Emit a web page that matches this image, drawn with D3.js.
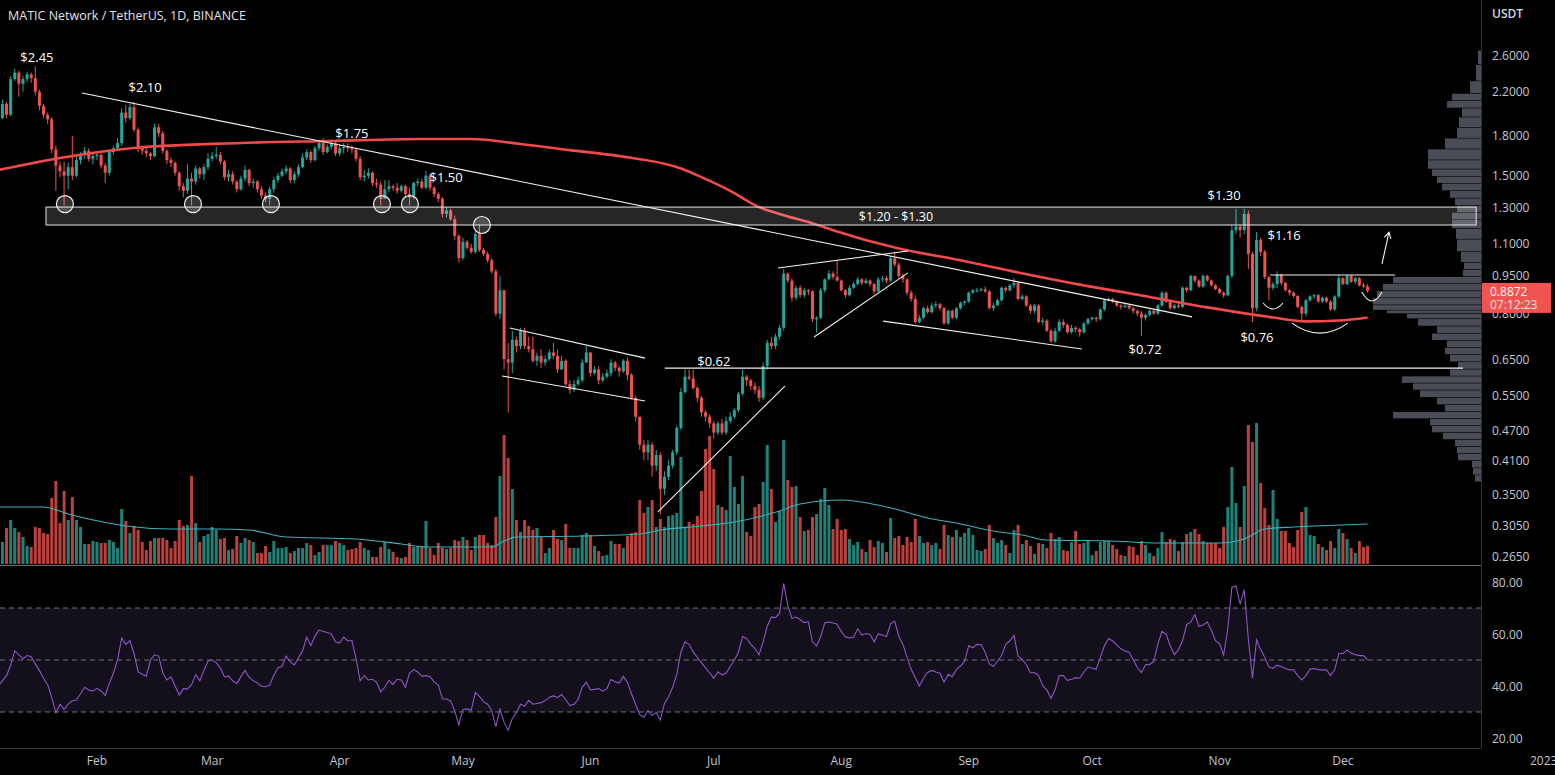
<!DOCTYPE html>
<html><head><meta charset="utf-8">
<script src="https://cdn.jsdelivr.net/npm/d3@7"></script>
<style>
html,body{margin:0;padding:0;background:#000;overflow:hidden;}
svg{display:block;}
text{font-family:"Open Sans","Noto Sans",sans-serif;}
</style></head><body>
<svg id="c" width="1555" height="775"></svg>
<script>
// ---------------- DATA ----------------
const startDate = new Date(Date.UTC(2022, 0, 8));
const firstOpen = 2.06;
const closes = [
1.95,2.08,1.98,2.33,2.40,2.28,2.33,2.38,2.34,2.20,
2.06,1.98,1.94,1.69,1.57,1.53,1.50,1.56,1.50,1.61,
1.65,1.68,1.62,1.64,1.65,1.57,1.52,1.67,1.70,1.74,
2.00,1.95,2.05,1.85,1.70,1.68,1.66,1.64,1.87,1.82,
1.68,1.61,1.59,1.52,1.43,1.40,1.48,1.46,1.55,1.51,
1.56,1.62,1.64,1.65,1.60,1.49,1.51,1.46,1.41,1.48,
1.54,1.45,1.46,1.41,1.37,1.35,1.41,1.47,1.50,1.53,
1.55,1.47,1.51,1.56,1.63,1.67,1.61,1.70,1.74,1.67,
1.71,1.74,1.66,1.70,1.71,1.70,1.69,1.62,1.49,1.50,
1.52,1.45,1.44,1.35,1.41,1.43,1.42,1.40,1.43,1.38,
1.36,1.45,1.46,1.42,1.50,1.42,1.38,1.35,1.26,1.28,
1.23,1.14,1.03,1.11,1.08,1.06,1.15,1.07,1.05,1.02,
0.97,0.80,0.89,0.65,0.64,0.71,0.69,0.74,0.69,0.68,
0.645,0.66,0.64,0.65,0.67,0.66,0.62,0.645,0.58,0.565,
0.58,0.59,0.64,0.67,0.61,0.62,0.59,0.60,0.61,0.64,
0.625,0.615,0.645,0.605,0.545,0.50,0.44,0.425,0.44,0.40,
0.42,0.36,0.38,0.40,0.425,0.475,0.56,0.60,0.595,0.57,
0.545,0.51,0.50,0.485,0.465,0.485,0.465,0.49,0.50,0.515,
0.555,0.60,0.59,0.575,0.565,0.545,0.63,0.70,0.69,0.72,
0.75,0.96,0.93,0.86,0.90,0.87,0.89,0.885,0.78,0.785,
0.89,0.935,0.96,0.945,0.93,0.89,0.87,0.90,0.915,0.935,
0.92,0.93,0.915,0.885,0.935,0.94,0.93,1.03,1.00,0.95,
0.935,0.88,0.855,0.77,0.785,0.82,0.805,0.83,0.835,0.82,
0.765,0.81,0.785,0.82,0.84,0.845,0.88,0.89,0.89,0.893,
0.885,0.82,0.83,0.85,0.90,0.89,0.91,0.92,0.855,0.865,
0.83,0.81,0.83,0.77,0.775,0.74,0.705,0.74,0.77,0.76,
0.735,0.75,0.745,0.735,0.765,0.78,0.785,0.78,0.815,0.85,
0.855,0.845,0.83,0.825,0.83,0.82,0.81,0.80,0.785,0.795,
0.81,0.80,0.83,0.88,0.845,0.82,0.83,0.825,0.90,0.89,
0.95,0.93,0.905,0.95,0.93,0.91,0.895,0.88,0.87,0.95,
1.17,1.19,1.17,1.26,1.05,0.82,1.12,1.06,0.945,0.90,
0.915,0.955,0.92,0.89,0.88,0.867,0.825,0.80,0.85,0.865,
0.87,0.845,0.86,0.845,0.815,0.865,0.94,0.915,0.95,0.925,
0.94,0.91,0.905,0.8872];
const highs = [
2.08,2.12,2.10,2.36,2.44,2.42,2.36,2.41,2.40,2.47,
2.22,2.08,2.00,1.96,1.72,1.60,1.60,1.59,1.80,1.64,
1.67,1.71,1.70,1.66,1.67,1.66,1.59,1.69,1.72,1.78,
2.04,2.07,2.08,2.10,1.87,1.72,1.70,1.67,1.90,1.90,
1.84,1.69,1.63,1.60,1.53,1.45,1.58,1.52,1.57,1.56,
1.58,1.66,1.67,1.71,1.67,1.61,1.54,1.53,1.47,1.50,
1.57,1.55,1.48,1.47,1.43,1.39,1.43,1.49,1.52,1.55,
1.57,1.56,1.53,1.58,1.66,1.69,1.68,1.72,1.76,1.78,
1.73,1.77,1.76,1.73,1.74,1.74,1.72,1.70,1.64,1.54,
1.55,1.53,1.48,1.46,1.47,1.47,1.44,1.45,1.44,1.44,
1.42,1.46,1.48,1.48,1.53,1.51,1.43,1.39,1.36,1.30,
1.29,1.25,1.15,1.13,1.12,1.10,1.16,1.20,1.08,1.06,
1.03,0.98,0.95,0.89,0.70,0.74,0.72,0.75,0.75,0.72,
0.72,0.67,0.68,0.66,0.68,0.70,0.68,0.66,0.65,0.59,
0.59,0.60,0.65,0.69,0.67,0.63,0.63,0.61,0.62,0.65,
0.645,0.63,0.65,0.655,0.61,0.55,0.50,0.45,0.45,0.445,
0.43,0.425,0.39,0.41,0.43,0.48,0.57,0.62,0.62,0.62,
0.575,0.55,0.515,0.505,0.49,0.49,0.495,0.50,0.51,0.52,
0.56,0.62,0.605,0.595,0.585,0.575,0.64,0.71,0.72,0.73,
0.76,0.98,0.965,0.94,0.91,0.91,0.90,0.895,0.89,0.79,
0.90,0.94,0.975,0.97,1.02,0.935,0.895,0.91,0.925,0.945,
0.94,0.94,0.935,0.92,0.945,0.95,0.95,1.04,1.06,1.01,
0.96,0.94,0.89,0.87,0.795,0.825,0.83,0.84,0.845,0.84,
0.825,0.815,0.815,0.825,0.845,0.85,0.885,0.895,0.90,0.90,
0.905,0.89,0.84,0.855,0.905,0.905,0.915,0.94,0.925,0.875,
0.87,0.835,0.835,0.835,0.785,0.78,0.745,0.75,0.78,0.78,
0.765,0.76,0.755,0.75,0.77,0.785,0.79,0.79,0.82,0.855,
0.86,0.86,0.85,0.835,0.835,0.835,0.825,0.815,0.81,0.80,
0.815,0.815,0.835,0.885,0.885,0.85,0.835,0.84,0.905,0.905,
0.955,0.95,0.935,0.955,0.955,0.935,0.915,0.90,0.885,0.955,
1.20,1.29,1.20,1.29,1.28,1.06,1.16,1.13,1.07,0.95,
0.925,0.97,0.96,0.925,0.895,0.885,0.87,0.83,0.855,0.87,
0.875,0.875,0.865,0.865,0.85,0.87,0.955,0.945,0.955,0.955,
0.945,0.945,0.92,0.915];
const lows = [
1.92,1.94,1.95,1.97,2.31,2.15,2.20,2.30,2.29,2.16,
2.02,1.95,1.90,1.66,1.40,1.49,1.31,1.41,1.47,1.49,
1.58,1.62,1.60,1.58,1.61,1.55,1.45,1.50,1.65,1.69,
1.72,1.91,1.93,1.83,1.67,1.65,1.63,1.61,1.63,1.79,
1.66,1.58,1.56,1.50,1.40,1.36,1.38,1.31,1.44,1.48,
1.47,1.54,1.60,1.62,1.58,1.47,1.46,1.44,1.39,1.40,
1.46,1.43,1.42,1.39,1.35,1.33,1.31,1.39,1.45,1.49,
1.51,1.45,1.45,1.49,1.55,1.61,1.59,1.60,1.68,1.65,
1.66,1.69,1.64,1.64,1.66,1.67,1.66,1.60,1.47,1.46,
1.48,1.43,1.42,1.31,1.38,1.39,1.40,1.38,1.39,1.36,
1.31,1.35,1.43,1.41,1.41,1.40,1.36,1.33,1.24,1.24,
1.22,1.12,1.01,1.02,1.07,1.05,1.05,1.06,1.04,1.01,
0.96,0.79,0.78,0.62,0.51,0.61,0.67,0.68,0.68,0.67,
0.64,0.63,0.625,0.63,0.645,0.65,0.61,0.62,0.575,0.555,
0.56,0.575,0.585,0.64,0.60,0.605,0.58,0.585,0.595,0.60,
0.615,0.60,0.61,0.59,0.54,0.49,0.43,0.41,0.41,0.38,
0.39,0.32,0.35,0.375,0.395,0.42,0.47,0.555,0.59,0.565,
0.535,0.50,0.49,0.475,0.452,0.46,0.46,0.46,0.485,0.495,
0.51,0.55,0.575,0.565,0.555,0.535,0.54,0.62,0.68,0.68,
0.71,0.74,0.92,0.845,0.85,0.86,0.86,0.87,0.77,0.733,
0.78,0.88,0.93,0.935,0.925,0.885,0.86,0.865,0.895,0.91,
0.91,0.915,0.905,0.875,0.88,0.925,0.92,0.925,0.99,0.94,
0.92,0.87,0.845,0.765,0.765,0.78,0.80,0.80,0.82,0.81,
0.76,0.76,0.78,0.78,0.815,0.83,0.84,0.875,0.88,0.885,
0.88,0.815,0.81,0.83,0.845,0.88,0.885,0.90,0.85,0.85,
0.825,0.80,0.80,0.765,0.76,0.735,0.70,0.70,0.735,0.75,
0.73,0.73,0.735,0.72,0.73,0.76,0.775,0.77,0.775,0.81,
0.845,0.84,0.825,0.815,0.82,0.815,0.80,0.79,0.722,0.775,
0.79,0.795,0.795,0.825,0.84,0.815,0.815,0.82,0.82,0.88,
0.885,0.92,0.90,0.90,0.925,0.905,0.89,0.875,0.86,0.865,
0.94,1.15,1.13,1.15,0.98,0.77,0.81,1.04,0.935,0.85,
0.89,0.90,0.91,0.885,0.87,0.86,0.82,0.775,0.79,0.845,
0.855,0.84,0.84,0.84,0.81,0.81,0.86,0.91,0.91,0.92,
0.915,0.905,0.90,0.88];
// volume, in units of 4M MATIC
const volumes = [
27,22,36,44,36,32,27,18,17,37, 36,31,30,66,83,41,73,44,67,44,
37,20,20,23,22,21,21,24,22,16, 55,43,31,38,34,22,14,23,26,26,
26,24,16,23,44,38,39,88,41,22, 28,30,37,34,25,26,14,15,28,21,
26,24,22,11,11,18,12,23,16,16, 17,11,13,16,16,21,19,9,12,19,
19,19,23,21,19,14,15,16,22,16, 14,7,7,17,22,15,12,7,6,7,
21,17,18,18,43,16,9,21,16,15, 16,24,23,27,24,14,27,29,29,21,
19,47,88,129,106,75,44,32,44,38, 34,36,27,11,16,34,25,24,40,16,
16,16,29,31,29,18,13,8,9,23, 20,20,16,28,31,32,64,51,57,64,
37,45,37,48,49,51,107,37,42,40, 48,73,115,128,95,59,57,54,108,77,
60,88,32,28,57,60,82,119,75,42, 53,124,84,77,78,47,33,34,47,50,
65,76,59,35,45,34,35,25,19,22, 15,12,24,17,23,21,12,46,26,28,
19,27,22,45,28,21,22,19,21,15, 39,29,27,34,27,31,36,29,14,13,
15,39,26,21,24,19,11,34,39,20, 24,18,10,21,20,16,31,25,27,14,
13,22,33,20,21,24,9,13,22,23, 23,19,15,9,8,18,17,9,23,19,
11,8,16,32,22,25,24,13,22,30, 32,35,30,23,21,21,21,16,37,57,
97,61,37,78,139,122,141,81,56,39, 74,45,33,33,21,17,34,52,57,29,
28,20,17,14,23,16,35,31,25,16, 11,23,17,18];
const rsi = [
40,42,44,48,53.5,52,50.5,51.7,51.3,48.5, 46,43,40.5,35.5,29.7,33,31,33,34.3,34.6,
37,39.5,38.5,38,39.1,38,36.4,41,45,50, 58.5,56,57.5,52.5,45.5,44.5,43.8,50,52,51.5,
45,42.3,43.5,40,36.5,39,38.9,40.5,44.4,42, 46,49.6,50,49,47,43.5,43.8,42,41,43.6,
46,43.3,42,41.2,39.9,39.7,40.4,44,47,47.5, 51.5,49.3,48.1,50.9,53.5,58.8,55.5,59.2,61.5,61,
60.6,60,57,56.5,58.8,57.3,57.5,50.5,42,44, 42.3,42.6,41.4,37.7,39.5,42.2,40.6,42.6,42.3,39.5,
45,46.3,45.4,43.7,44,43.6,41.6,40.4,35,35, 34.2,30.5,25,31,31.2,30.6,37.5,36,34,33,
30.5,24.4,31,26,23,27.5,29.7,33,32.3,34.5, 33,33.3,33.6,34.4,35.7,36.2,35.6,36.7,34.7,32.5,
33,34.8,39.5,41.5,38.5,38.7,39,38,39,42.5, 41.6,41.1,43.7,41.3,37,32.8,29,28,30.5,28.7,
29.8,26.9,33.3,35.8,39.5,44.5,53,57,56,53, 51,49,47,45,43,45.5,44.3,45,47.5,50,
53,59,58.3,56,54.4,52,57,63,66.5,66.3, 68,79.5,71,66,66.5,65.5,64.4,64.7,57,55.4,
59,64.3,64.6,64.2,63.8,61,58.8,58.5,58.8,62, 59.6,60.2,59.7,57,60,59.6,59,64,65,59,
56,51,46.5,43.2,40,43,45.2,46,45.4,44.9, 41.5,44.5,43.6,46.4,47.7,49.5,55.5,54.7,56,55.9,
53,48.5,47.5,49.6,51.7,56,57.4,59.5,51.5,50.2, 48.2,45,45.2,44,40,38.5,35.2,38.5,44,44,
42.2,42.6,43.2,43,45.4,47.3,46.8,46.4,51,55.5, 58.3,57.3,55.8,54.3,53.5,53,50.2,47,45.2,48.2,
48.3,49.4,56.2,61,60,55.5,52,54,57.5,63.6, 64.6,67.5,63,63.5,64.6,61.5,57.4,56.2,51.9,62,
78,78.5,71.5,77,58,43,57.7,54,51,47.3, 46.8,48,47.5,46.7,46.2,46.2,44,42.3,44,46.5,
46.7,46.3,46.2,46.2,44,46.2,52.5,52.5,53.8,52.7, 52,51.7,51.7,50];
// 200-day moving average read at sample days [day index, price]
const ma200Days   = [0,15,33,59,81,103,115,127,139,151,166,171,178,185,190,199,203,219,234,248,263,278,294,310,318,326,333];
const ma200Values = [1.539,1.626,1.702,1.741,1.757,1.773,1.773,1.733,1.685,1.640,1.550,1.490,1.400,1.300,1.260,1.200,1.170,1.076,1.020,0.965,0.913,0.869,0.823,0.786,0.772,0.775,0.786];
// volume moving average read at sample days
const volMaDays   = [0,11,17,22,31,42,53,61,70,87,98,104,120,123,126,142,156,161,171,179,190,195,205,215,219,226,233,242,249,255,271,282,297,303,308,315,320,333];
const volMaValues = [57,57,50,45,38,35,35,34,27,25,20,17,17,23,27,28,30,34,38,42,53,60,64,58,54,46,41,33,29,24,23,21,21,25,35,37,38,40];
// visible-range volume profile
const vpPrices = [2.568,2.405,2.214,2.145,2.073,2.006,1.910,1.822,1.734,1.650,1.570,1.518,1.470,1.424,1.375,1.330,1.287,1.246,1.205,1.150,1.094,1.026,0.993,0.961,0.930,0.901,0.872,0.845,0.818,0.805,0.793,0.768,0.742,0.719,0.696,0.674,0.653,0.630,0.611,0.591,0.573,0.555,0.536,0.519,0.503,0.487,0.472,0.457,0.443,0.429,0.416,0.402,0.389,0.377];
const vpVolumes = [3,5,11,29,34,19,22,24,36,53,53,49,44,39,31,26,24,29,29,25,24,20,17,18,88,98,104,108,108,94,74,63,44,49,34,36,31,23,31,79,68,61,44,36,88,51,49,38,26,24,23,9,8,6];
const priceTicks = [2.6,2.2,1.8,1.5,1.3,1.1,0.95,0.8,0.65,0.55,0.47,0.41,0.35,0.305,0.265];
const rsiTicks = [80,60,40,20];
const rsiLevels = [70,50,30];
const lastPrice = 0.8872, countdown = "07:12:23";
// chart drawings, in [day index, price]
const trendLines = [
  [[20.35,2.186],[290.3,0.788]],
  [[124.4,0.749],[157.3,0.653]],
  [[122.5,0.602],[157.3,0.537]],
  [[162.1,0.624],[356.2,0.624]],
  [[160.4,0.324],[191.3,0.575]],
  [[189.6,0.985],[221.2,1.064]],
  [[198.4,0.719],[221.2,0.963]],
  [[215.2,0.773],[263.5,0.681]],
  [[309.3,0.954],[339.7,0.954]]
];
const zoneBox = {from:11.6, to:359.4, low:1.198, high:1.30, label:"$1.20 - $1.30", labelDay:218.3, labelPrice:1.248};
const touchCircles = [[16.2,1.318],[47.35,1.318],[66.3,1.318],[93.3,1.318],[100.1,1.318],[117.6,1.198]];
const arcs = [[[307.6,0.8396],[312.4,0.8396],12],[[314.6,0.766],[328.2,0.766],20],[[331.6,0.883],[336.5,0.883],18]];
const arrow = [[336.5,1.003],[338.2,1.160]];
const priceNotes = [
  ["$2.45",9.4,2.576],["$2.10",35.7,2.247],["$1.75",86.0,1.822],["$1.50",108.9,1.491],
  ["$0.62",174.0,0.644],["$0.72",278.9,0.681],["$1.30",298.1,1.374],["$1.16",312.7,1.145],["$0.76",306.1,0.719]
];

// ---------------- CHART ----------------
const W = 1555, H = 775, axisX = 1481;
const svg = d3.select("#c");
svg.append("rect").attr("width",W).attr("height",H).attr("fill","#000");
const N = closes.length;
const opens = closes.map((c,i)=> i===0 ? firstOpen : closes[i-1]);
const dayMs = 864e5;
const dates = d3.range(N).map(i => d3.utcDay.offset(startDate, i));
const x = d3.scaleUtc().domain([startDate, dates[N-1]]).range([-1.7, -1.7 + (N-1)*4.112]);
const xd = d => x(new Date(startDate.getTime() + d*dayMs));
const y = d3.scaleLog().domain([0.265, 2.6]).range([556, 55]);
const yv = d3.scaleLinear().domain([0,150]).range([564, 414]);
const yr = d3.scaleLinear().domain([30,70]).range([712, 608]);
const UP = "#26a69a", DN = "#ef5350";

const defs = svg.append("defs");
defs.append("clipPath").attr("id","pane").append("rect").attr("x",0).attr("y",0).attr("width",axisX).attr("height",565);
defs.append("clipPath").attr("id","rpane").append("rect").attr("x",0).attr("y",567).attr("width",axisX).attr("height",181);
const pane = svg.append("g").attr("clip-path","url(#pane)");

// volume profile
const vpRows = vpPrices.map((p,i)=>({p, v:vpVolumes[i], yc:y(p)}));
const vpG = pane.append("g");
vpRows.forEach((r,i)=>{
  const prev = i>0 ? vpRows[i-1].yc : r.yc - (vpRows[1].yc - vpRows[0].yc);
  const next = i<vpRows.length-1 ? vpRows[i+1].yc : r.yc + (r.yc - vpRows[i-1].yc);
  const t = (prev + r.yc)/2, b = (next + r.yc)/2;
  vpG.append("rect").attr("x", axisX - r.v).attr("y", t).attr("width", r.v).attr("height", Math.max(1, b - t - 0.6))
    .attr("fill","#4a4d56");
});

// volume bars
pane.append("g").selectAll("rect").data(d3.range(N)).join("rect")
  .attr("x", i => x(dates[i]) - 1.5).attr("width", 3)
  .attr("y", i => yv(volumes[i])).attr("height", i => yv(0) - yv(volumes[i]))
  .attr("fill", i => closes[i] >= opens[i] ? UP : DN).attr("opacity", 0.78);
// volume MA
pane.append("path").datum(volMaDays.map((d,i)=>[d, volMaValues[i]]))
  .attr("d", d3.line().x(d=>xd(d[0])).y(d=>yv(d[1])).curve(d3.curveMonotoneX))
  .attr("fill","none").attr("stroke","#3fb0bd").attr("stroke-width",1.1);

// candles
const cg = pane.append("g");
d3.range(N).forEach(i=>{
  const o = opens[i], c = closes[i];
  const col = c >= o ? UP : DN;
  const cx = x(dates[i]);
  const hi = Math.max(highs[i], o, c), lo = Math.min(lows[i], o, c);
  cg.append("line").attr("x1",cx).attr("x2",cx).attr("y1",y(hi)).attr("y2",y(lo)).attr("stroke",col).attr("stroke-width",1);
  const top = y(Math.max(o,c)), bot = y(Math.min(o,c));
  cg.append("rect").attr("x",cx-1.5).attr("width",3).attr("y",top).attr("height",Math.max(1,bot-top)).attr("fill",col);
});

// 200 MA
pane.append("path").datum(ma200Days.map((d,i)=>[d, ma200Values[i]]))
  .attr("d", d3.line().x(d=>xd(d[0])).y(d=>y(d[1])).curve(d3.curveMonotoneX))
  .attr("fill","none").attr("stroke","#f04a4a").attr("stroke-width",2.6);

// drawings
const dg = pane.append("g");
dg.append("rect").attr("x", xd(zoneBox.from)).attr("y", y(zoneBox.high))
  .attr("width", xd(zoneBox.to) - xd(zoneBox.from)).attr("height", y(zoneBox.low) - y(zoneBox.high))
  .attr("fill","rgba(255,255,255,0.15)").attr("stroke","#e6e6e6").attr("stroke-width",1);
dg.append("text").attr("x", xd(zoneBox.labelDay)).attr("y", y(zoneBox.labelPrice)).attr("text-anchor","middle")
  .attr("dominant-baseline","central").attr("fill","#fff").attr("font-size",12.5).text(zoneBox.label);
trendLines.forEach(([a,b])=>{
  dg.append("line").attr("x1",xd(a[0])).attr("y1",y(a[1])).attr("x2",xd(b[0])).attr("y2",y(b[1]))
    .attr("stroke","#f2f2f2").attr("stroke-width",1.1);
});
touchCircles.forEach(([d,p])=>{
  dg.append("circle").attr("cx",xd(d)).attr("cy",y(p)).attr("r",8.5)
    .attr("fill","rgba(255,255,255,0.2)").attr("stroke","#f2f2f2").attr("stroke-width",1.2);
});
arcs.forEach(([a,b,sag])=>{
  const x1 = xd(a[0]), y1 = y(a[1]), x2 = xd(b[0]), y2 = y(b[1]);
  dg.append("path").attr("d", `M${x1},${y1} Q${(x1+x2)/2},${(y1+y2)/2+sag} ${x2},${y2}`)
    .attr("fill","none").attr("stroke","#f2f2f2").attr("stroke-width",1.1);
});
{
  const x1 = xd(arrow[0][0]), y1 = y(arrow[0][1]), x2 = xd(arrow[1][0]), y2 = y(arrow[1][1]);
  const ang = Math.atan2(y2-y1, x2-x1), L = 7;
  dg.append("path").attr("d", `M${x1},${y1} L${x2},${y2} M${x2 - L*Math.cos(ang-0.5)},${y2 - L*Math.sin(ang-0.5)} L${x2},${y2} L${x2 - L*Math.cos(ang+0.5)},${y2 - L*Math.sin(ang+0.5)}`)
    .attr("fill","none").attr("stroke","#f2f2f2").attr("stroke-width",1.1);
}
priceNotes.forEach(([t,d,p])=>{
  dg.append("text").attr("x",xd(d)).attr("y",y(p)).attr("text-anchor","middle").attr("dominant-baseline","central")
    .attr("fill","#fff").attr("font-size",13).text(t);
});

// RSI pane
const rg = svg.append("g").attr("clip-path","url(#rpane)");
rg.append("rect").attr("x",0).attr("width",axisX).attr("y",yr(70)).attr("height",yr(30)-yr(70)).attr("fill","#130f1b");
rsiLevels.forEach(l=>{
  rg.append("line").attr("x1",0).attr("x2",axisX).attr("y1",yr(l)).attr("y2",yr(l))
    .attr("stroke","#8a8d96").attr("stroke-dasharray","5,4").attr("stroke-width",1).attr("opacity",0.8);
});
rg.append("path").datum(rsi).attr("d", d3.line().x((d,i)=>x(dates[i])).y(d=>yr(d)))
  .attr("fill","none").attr("stroke","#8e55c8").attr("stroke-width",1.1);

// separators
svg.append("line").attr("x1",0).attr("x2",axisX).attr("y1",565.5).attr("y2",565.5).attr("stroke","#6a6d78").attr("stroke-width",1.2);
svg.append("line").attr("x1",0).attr("x2",axisX).attr("y1",748.5).attr("y2",748.5).attr("stroke","#3a3d46").attr("stroke-width",1);
svg.append("line").attr("x1",axisX+0.5).attr("x2",axisX+0.5).attr("y1",0).attr("y2",748).attr("stroke","#2f323b").attr("stroke-width",1);

// price axis
const ax = svg.append("g");
ax.append("text").attr("x",1492).attr("y",18).attr("fill","#d1d4dc").attr("font-size",12).attr("font-weight",600).text("USDT");
priceTicks.forEach(p=>{
  ax.append("text").attr("x",1492).attr("y",y(p)).attr("dominant-baseline","central").attr("fill","#c4c7cf").attr("font-size",12).text(p.toFixed(4));
});
rsiTicks.forEach(v=>{
  ax.append("text").attr("x",1492).attr("y",yr(v)).attr("dominant-baseline","central").attr("fill","#c4c7cf").attr("font-size",12).text(v.toFixed(2));
});
// last price tag
const ly = y(lastPrice);
ax.append("rect").attr("x",axisX+1).attr("y",ly-8).attr("width",69).attr("height",30).attr("fill","#f05350");
ax.append("text").attr("x",1490).attr("y",ly+0.5).attr("dominant-baseline","central").attr("fill","#fff").attr("font-size",12).text(lastPrice.toFixed(4));
ax.append("text").attr("x",1490).attr("y",ly+14).attr("dominant-baseline","central").attr("fill","#ffe0e0").attr("font-size",12).text(countdown);

// time axis
const tg = svg.append("g");
d3.utcMonth.range(d3.utcDay.offset(startDate,1), dates[N-1]).forEach(m=>{
  tg.append("text").attr("x",x(m)).attr("y",765).attr("text-anchor","middle").attr("fill","#c4c7cf").attr("font-size",12)
    .text(d3.utcFormat("%b")(m));
});
tg.append("text").attr("x",1530).attr("y",765).attr("fill","#c4c7cf").attr("font-size",12).text("2023");

// title
svg.append("text").attr("x",8).attr("y",20).attr("fill","#e0e3eb").attr("font-size",12.5).text("MATIC Network / TetherUS, 1D, BINANCE");
</script>
</body></html>
